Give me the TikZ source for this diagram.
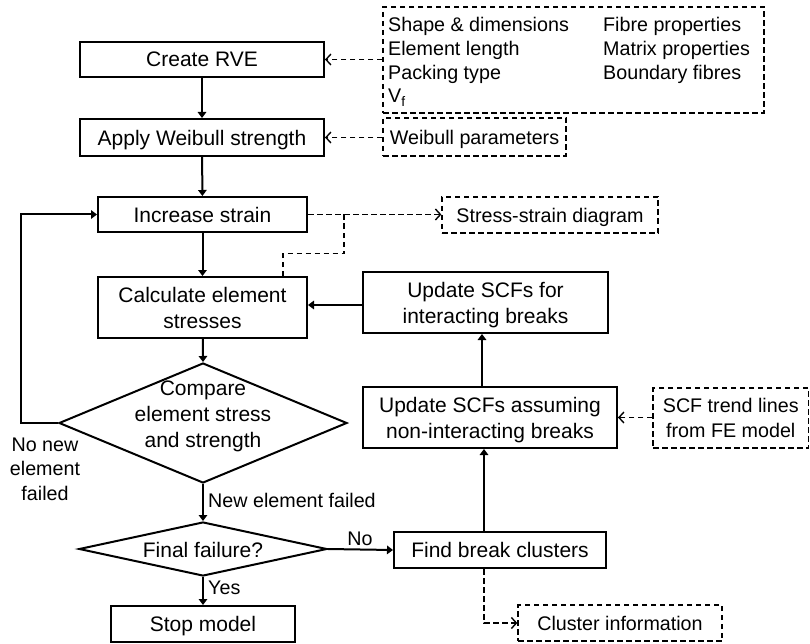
\documentclass[tikz,border=0pt]{standalone}
\usepackage{fontspec}
\setmainfont{Liberation Sans}
\usetikzlibrary{arrows.meta,shapes.geometric,calc}
\begin{document}
\begin{tikzpicture}[x=1pt,y=-1pt,
  mainfont/.style={font=\fontsize{21}{26}\selectfont},
  sidefont/.style={font=\fontsize{19.7}{24.3}\selectfont},
  proc/.style={draw,line width=2pt,mainfont,align=center,inner sep=0pt,text depth=0pt},
  dia/.style={draw,line width=2pt,diamond,inner sep=0pt},
  info/.style={draw,line width=1.3pt,dash pattern=on 5.5pt off 3.5pt,sidefont,align=center,inner sep=0pt,text depth=0pt},
  lbl/.style={sidefont,align=center,inner sep=0pt,text depth=0pt},
  arr/.style={line width=2pt,-{Triangle[length=6pt,width=8.5pt]}},
  darr/.style={line width=1.3pt,dash pattern=on 5.5pt off 3.5pt,-{Straight Barb[length=5pt,width=11pt,line width=1.4pt]}},
  dline/.style={line width=1.3pt,dash pattern=on 5.5pt off 3.5pt}
]
\useasboundingbox (0,0) rectangle (810,644);

% main flow
\node[proc,minimum width=244pt,minimum height=35pt] (cre) at (202,59.5) {Create RVE};
\node[proc,minimum width=244pt,minimum height=37pt] (app) at (202,137.5) {Apply Weibull strength};
\node[proc,minimum width=209pt,minimum height=35pt] (inc) at (202.5,214.5) {Increase strain};
\node[proc,minimum width=209pt,minimum height=61pt] (calc) at (202.5,307.5) {Calculate element\\stresses};
\node[dia,minimum width=288pt,minimum height=120pt] (cmp) at (203,423) {};
\node[lbl,mainfont] (cmpt) at (203,414) {Compare\\element stress\\and strength};
\node[dia,minimum width=248pt,minimum height=54pt] (fin) at (203,549) {};
\node[lbl,mainfont] (fint) at (203,549.5) {Final failure?};
\node[proc,minimum width=184pt,minimum height=36pt] (stop) at (203,624) {Stop model};
\node[proc,minimum width=245pt,minimum height=61pt] (upd) at (485.5,302.5) {Update SCFs for\\interacting breaks};
\node[proc,minimum width=254pt,minimum height=61pt] (asm) at (490,417.5) {Update SCFs assuming\\non-interacting breaks};
\node[proc,minimum width=212pt,minimum height=36pt] (find) at (500,550) {Find break clusters};

% side information boxes
\node[info,minimum width=381pt,minimum height=106pt] (inp) at (573.5,60) {};
\node[lbl,anchor=base west] (t1) at (388,31.5) {Shape \& dimensions};
\node[lbl,anchor=base west] (t2) at (388,55.7) {Element length};
\node[lbl,anchor=base west] (t3) at (388,79.7) {Packing type};
\node[lbl,anchor=base west] (t4) at (388,103) {V\textsubscript{f}};
\node[lbl,anchor=base west] (t5) at (603,31.5) {Fibre properties};
\node[lbl,anchor=base west] (t6) at (603,55.7) {Matrix properties};
\node[lbl,anchor=base west] (t7) at (603,79.7) {Boundary fibres};
\node[info,minimum width=183pt,minimum height=38pt] (wp) at (474.5,137) {Weibull parameters};
\node[info,minimum width=216pt,minimum height=36pt] (ssd) at (550,215) {Stress-strain diagram};
\node[info,minimum width=155.5pt,minimum height=60pt] (scf) at (730.75,418) {SCF trend lines\\from FE model};
\node[info,minimum width=204pt,minimum height=36pt] (clu) at (620,623) {Cluster information};

% solid connectors
\draw[arr] (cre) -- (app);
\draw[arr] (app) -- (inc);
\draw[arr] (inc) -- (calc);
\draw[arr] (calc) -- (cmp.north);
\draw[arr] (cmp.south) -- (fin.north);
\draw[arr] (fin.south) -- (stop.north);
\draw[arr] (fin.east) -- (find.west);
\coordinate (fn) at ($(find.north)+(-16,0)$);
\draw[arr] (fn) -- (fn |- asm.south);
\coordinate (an) at ($(asm.north)+(-8,0)$);
\draw[arr] (an) -- (an |- upd.south);
\coordinate (uw) at ($(upd.west)+(0,2.5)$);
\draw[arr] (uw) -- (uw -| calc.east);
\draw[arr] (cmp.west) -- ++(-37,0) |- (inc.west);

% labels
\node[lbl,anchor=west] (lnew) at (208,500) {New element failed};
\node[lbl,anchor=west] (lyes) at (208,588) {Yes};
\node[lbl] (lno) at (360,539) {No};
\node[lbl] (lnonew) at (45,469) {No new\\element\\failed};

% dashed connectors
\draw[darr] (inp.west |- cre.east) -- (cre.east);
\draw[darr] (wp.west |- app.east) -- (app.east);
\draw[darr] (inc.east) -- (ssd.west |- inc.east);
\coordinate (jn) at ($(inc.east)+(36,0)$);
\draw[dline] ($(calc.north east)+(-25,0)$) -- ++(0,-22.5) -| (jn);
\draw[darr] (scf.west |- asm.east) -- (asm.east);
\draw[darr] ($(find.south)+(-16,0)$) |- (clu.west);
\end{tikzpicture}
\end{document}
